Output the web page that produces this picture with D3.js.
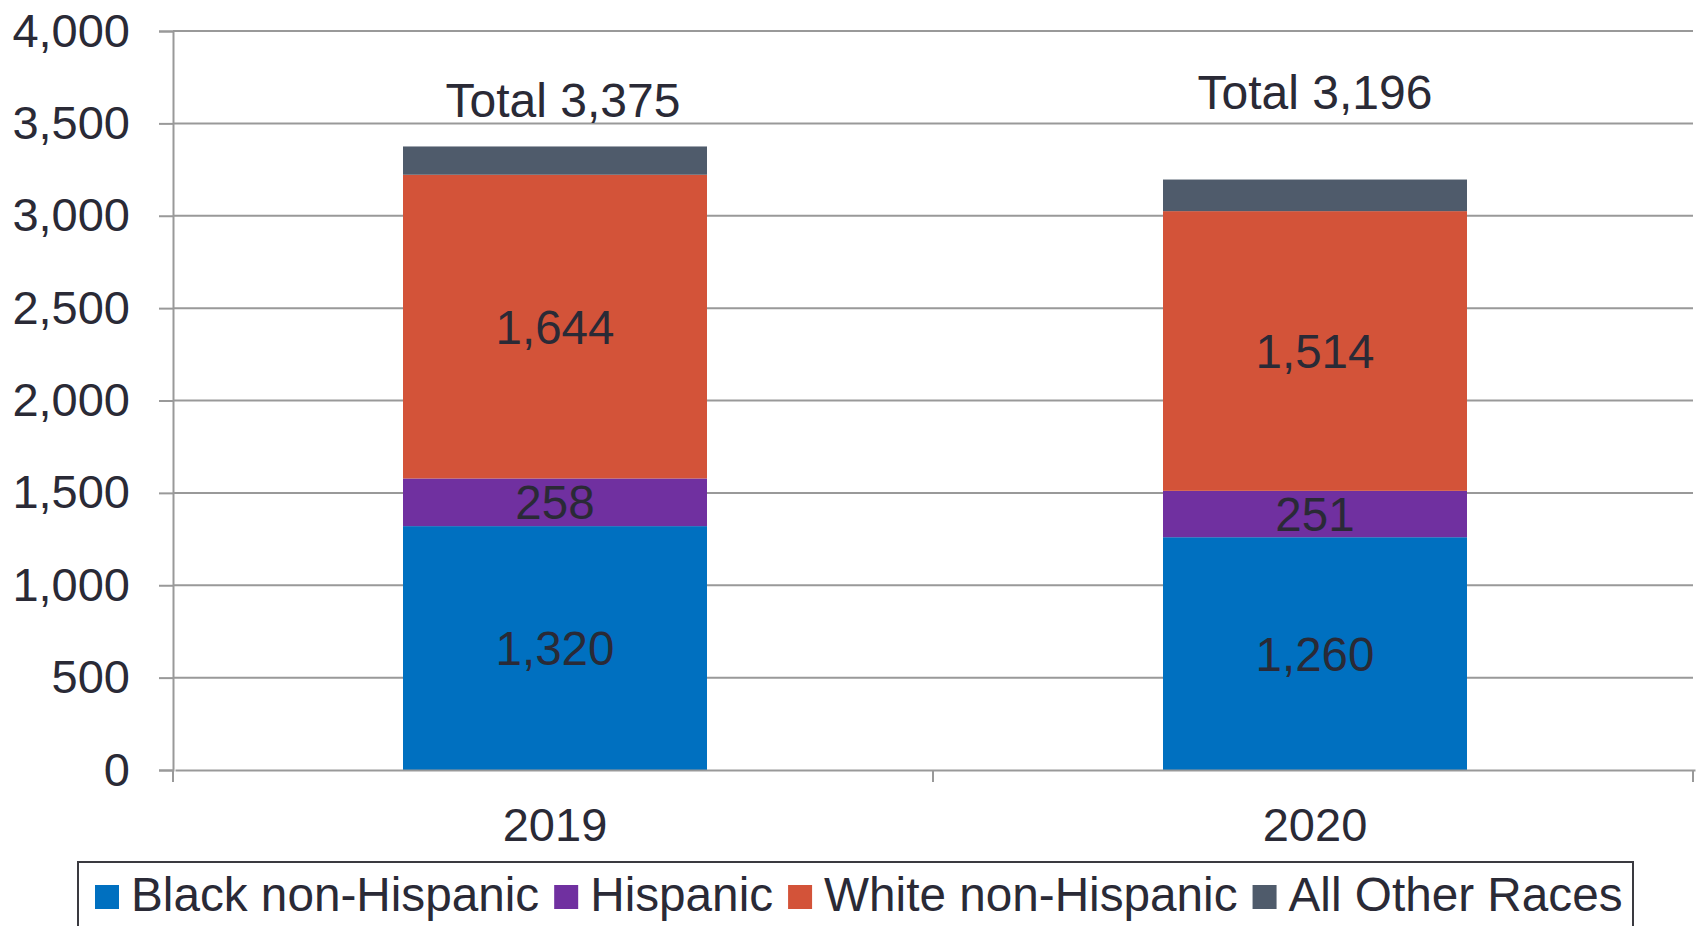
<!DOCTYPE html>
<html>
<head>
<meta charset="utf-8">
<script src="https://cdn.jsdelivr.net/npm/d3@7"></script>
<style>
  body { margin: 0; background: #fff; }
  svg { display: block; font-family: "Liberation Sans", Arial, sans-serif; }
</style>
</head>
<body>
<svg></svg>
<script>
const years = ['2019', '2020'];
const groups = ['Black non-Hispanic', 'Hispanic', 'White non-Hispanic', 'All Other Races'];
const black = [1320, 1260];
const hispanic = [258, 251];
const white = [1644, 1514];
const other = [153, 171];
const totals = [3375, 3196];
const yTicks = [0, 500, 1000, 1500, 2000, 2500, 3000, 3500, 4000];
const colors = ['#0070c0', '#7030a0', '#d35339', '#4f5b6b'];

const width = 1696, height = 926;
const plotLeft = 173, plotRight = 1693, plotTop = 31, plotBottom = 770;
const textColor = '#2a2a36', gridColor = '#999';

const svg = d3.select('svg')
    .attr('width', width)
    .attr('height', height);

const x = d3.scaleBand()
    .domain(years)
    .range([plotLeft + 2, plotRight + 2])
    .paddingInner(0.6)
    .paddingOuter(0.3);

const y = d3.scaleLinear()
    .domain([0, 4000])
    .range([plotBottom, plotTop]);

// gridlines
svg.append('g')
  .selectAll('line')
  .data(yTicks.slice(1))
  .join('line')
    .attr('x1', plotLeft)
    .attr('x2', plotRight)
    .attr('y1', d => y(d))
    .attr('y2', d => y(d))
    .attr('stroke', gridColor)
    .attr('stroke-width', 2);

// stacked bars
const rows = years.map((yr, i) => ({
  year: yr,
  'Black non-Hispanic': black[i],
  'Hispanic': hispanic[i],
  'White non-Hispanic': white[i],
  'All Other Races': other[i]
}));
const stack = d3.stack().keys(groups)(rows);

const layers = svg.append('g')
  .selectAll('g')
  .data(stack)
  .join('g')
    .attr('fill', (d, i) => colors[i]);

layers.selectAll('rect')
  .data(d => d)
  .join('rect')
    .attr('x', d => x(d.data.year))
    .attr('width', x.bandwidth())
    .attr('y', d => y(d[1]))
    .attr('height', d => y(d[0]) - y(d[1]));

// value labels (first three series)
stack.slice(0, 3).forEach(layer => {
  svg.append('g')
    .selectAll('text')
    .data(layer)
    .join('text')
      .attr('x', d => x(d.data.year) + x.bandwidth() / 2)
      .attr('y', d => y((d[0] + d[1]) / 2))
      .attr('dy', '0.36em')
      .attr('text-anchor', 'middle')
      .attr('font-size', 47.5)
      .attr('fill', textColor)
      .text(d => d3.format(',')(d[1] - d[0]));
});

// totals
svg.append('g')
  .selectAll('text')
  .data(totals)
  .join('text')
    .attr('x', (d, i) => x(years[i]) + x.bandwidth() / 2 + (i === 0 ? 8 : 0))
    .attr('y', (d, i) => y(d) - (i === 0 ? 29 : 71))
    .attr('text-anchor', 'middle')
    .attr('font-size', 48)
    .attr('fill', textColor)
    .text(d => 'Total ' + d3.format(',')(d));

// y axis
const yAxis = svg.append('g')
    .attr('transform', `translate(${plotLeft},0)`)
    .call(d3.axisLeft(y).tickValues(yTicks).tickFormat(d3.format(',')).tickSize(14).tickPadding(29));
yAxis.selectAll('line, path').attr('stroke', gridColor).attr('stroke-width', 2);
yAxis.selectAll('text').attr('font-size', 47).attr('fill', textColor).attr('font-family', null);

// x axis
const xAxis = svg.append('g')
    .attr('transform', `translate(0,${plotBottom})`)
    .call(d3.axisBottom(x).tickSize(0).tickPadding(38).tickSizeOuter(0));
xAxis.select('path').attr('stroke', gridColor).attr('stroke-width', 2);
xAxis.selectAll('text').attr('font-size', 47).attr('fill', textColor).attr('font-family', null);

const edges = [plotLeft, plotLeft + (plotRight - plotLeft) / 2, plotRight];
xAxis.selectAll('line.edge')
  .data(edges)
  .join('line')
    .attr('class', 'edge')
    .attr('x1', d => d)
    .attr('x2', d => d)
    .attr('y1', 0)
    .attr('y2', 12)
    .attr('stroke', gridColor)
    .attr('stroke-width', 2);

// legend
const legend = svg.append('g');
legend.append('rect')
    .attr('x', 78)
    .attr('y', 862)
    .attr('width', 1555)
    .attr('height', 80)
    .attr('fill', 'none')
    .attr('stroke', '#3a3a40')
    .attr('stroke-width', 2);

let lx = 95;
groups.forEach((g, i) => {
  legend.append('rect')
    .attr('x', lx)
    .attr('y', 885)
    .attr('width', 24)
    .attr('height', 24)
    .attr('fill', colors[i]);
  const t = legend.append('text')
    .attr('x', lx + 36)
    .attr('y', 911)
    .attr('font-size', 47.7)
    .attr('fill', textColor)
    .text(g);
  lx += 36 + t.node().getComputedTextLength() + 15;
});
</script>
</body>
</html>
